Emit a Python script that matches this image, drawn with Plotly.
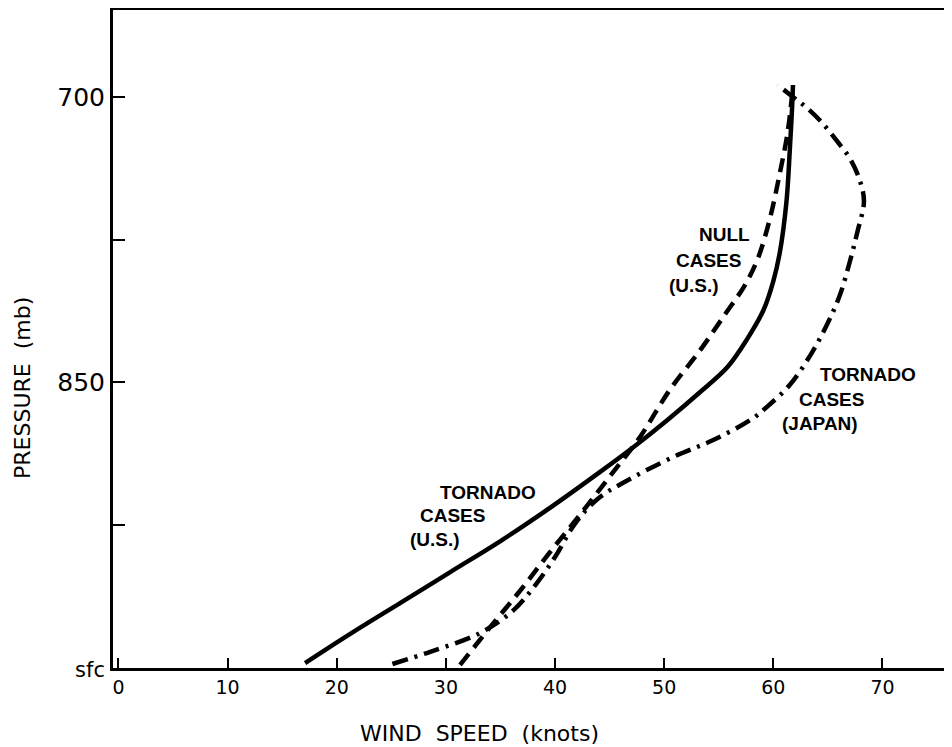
import plotly.graph_objects as go

# Tornado cases (U.S.) - solid
us_tor_speed = [17.1, 21.2, 25.8, 30.4, 35.0, 39.5, 44.1, 47.2, 50.3, 53.3, 55.8, 57.6, 59.1,
                60.0, 60.6, 61.2, 61.5, 61.7, 61.8]
us_tor_pres = [997.4, 982.2, 965.9, 949.6, 933.3, 916.0, 897.1, 883.9, 869.7, 855.0, 841.9, 827.2, 811.9,
               796.7, 781.5, 755.2, 728.9, 707.9, 693.7]

# Null cases (U.S.) - dashed
null_speed = [31.3, 34.0, 36.8, 39.5, 42.3, 45.0, 47.8, 50.5, 53.3, 55.6, 57.4, 58.6, 59.7, 60.6, 61.3, 61.7]
null_pres = [998.4, 978.9, 959.4, 939.4, 919.4, 899.5, 878.5, 854.0, 833.0, 814.0, 798.8, 784.6, 763.6,
             739.9, 718.9, 700.0]

# Tornado cases (Japan) - dash-dot
jp_speed = [25.1, 28.5, 33.1, 36.2, 38.2, 40.0, 41.8, 43.9, 46.2, 50.8, 54.5, 57.9, 59.4, 61.5, 63.4,
            64.9, 66.1, 67.0, 67.7, 68.3, 68.0, 67.1, 65.9, 64.4, 63.1, 61.8, 60.4]
jp_pres = [997.9, 991.6, 981.7, 969.6, 956.4, 941.7, 924.4, 911.2, 902.8, 889.2, 880.2, 869.7, 862.9, 851.3,
           835.6, 819.8, 804.0, 786.7, 770.9, 755.2, 745.2, 733.1, 723.6, 713.1, 705.8, 700.0, 693.7]

x_ticks = [0, 10, 20, 30, 40, 50, 60, 70]
y_ticks = [700, 775, 850, 925, 1000]
y_ticktext = ["700", "", "850", "", '<span style="font-size:21px">sfc</span>']

FONT = "DejaVu Sans"
LAB = "Liberation Sans"

fig = go.Figure()
fig.add_trace(go.Scatter(x=us_tor_speed, y=us_tor_pres, mode="lines",
                         line=dict(color="black", width=4.5, shape="spline"), showlegend=False))
fig.add_trace(go.Scatter(x=null_speed, y=null_pres, mode="lines",
                         line=dict(color="black", width=4.5, shape="spline", dash="14px,8px"), showlegend=False))
fig.add_trace(go.Scatter(x=jp_speed, y=jp_pres, mode="lines",
                         line=dict(color="black", width=4.5, shape="spline", dash="16px,7px,3px,7px"),
                         showlegend=False))

labels = [
    ("NULL", 53.0, 772.5), ("CASES", 50.9, 785.7), ("(U.S.)", 50.3, 798.8),
    ("TORNADO", 29.3, 907.6), ("CASES", 27.4, 919.7), ("(U.S.)", 26.5, 932.3),
    ("TORNADO", 64.1, 845.8), ("CASES", 62.2, 858.7), ("(JAPAN)", 60.6, 871.3),
]
for txt, lx, ly in labels:
    fig.add_annotation(x=lx, y=ly, xref="x", yref="y", text=txt, showarrow=False,
                       xanchor="left", yanchor="middle",
                       font=dict(family=LAB, size=19, color="black", weight="bold"))

fig.add_annotation(x=0.4374, y=-0.0988, xref="paper", yref="paper", text="WIND  SPEED  (knots)",
                   showarrow=False, xanchor="center", yanchor="middle",
                   font=dict(family=FONT, size=22, color="black"))
fig.add_annotation(x=-0.1085, y=0.4255, xref="paper", yref="paper", text="PRESSURE  (mb)",
                   showarrow=False, xanchor="center", yanchor="middle", textangle=-90,
                   font=dict(family=FONT, size=22, color="black"))

fig.update_layout(
    width=944, height=739,
    margin=dict(l=105, r=0, t=2, b=79),
    plot_bgcolor="white", paper_bgcolor="white",
    xaxis=dict(range=[-0.5, 76.37], tickvals=x_ticks, ticks="inside", ticklen=10, tickwidth=2,
               tickcolor="black", showline=True, linewidth=3, linecolor="black", mirror=True,
               showgrid=False, zeroline=False, tickfont=dict(family=FONT, size=19, color="black")),
    yaxis=dict(range=[1000, 654.3], tickvals=y_ticks, ticktext=y_ticktext, ticks="inside", ticklen=12,
               tickwidth=2, tickcolor="black", showline=True, linewidth=3, linecolor="black",
               showgrid=False, zeroline=False, tickfont=dict(family=FONT, size=25, color="black")),
)

fig.write_html("out.html")
